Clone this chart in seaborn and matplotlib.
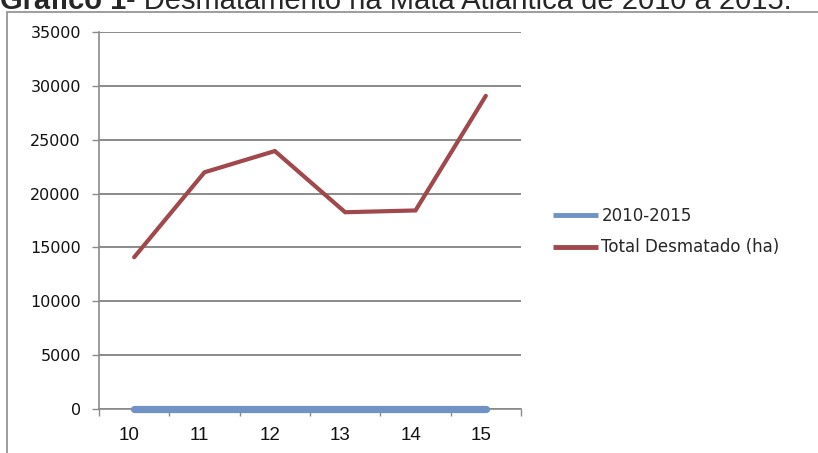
import numpy as np
import pandas as pd
import seaborn as sns
import matplotlib
matplotlib.use("Agg")
import matplotlib.pyplot as plt
from matplotlib.patches import Rectangle
from matplotlib.transforms import ScaledTranslation
from matplotlib.ticker import FixedLocator, FuncFormatter

# Deforested area per year (hectares), Atlantic Forest
years = ["10", "11", "12", "13", "14", "15"]
total_desmatado = [14090, 21977, 23948, 18267, 18433, 29075]
periodo = [0, 0, 0, 0, 0, 0]
y_ticks = [0, 5000, 10000, 15000, 20000, 25000, 30000, 35000]

RED = "#A0484B"
BLUE = "#7092C4"
GRID = "#8A8A8A"

sns.set_theme(style="white")
plt.rcParams["font.family"] = ["DejaVu Sans"]

df = pd.DataFrame({
    "pos": np.arange(len(years)),
    "ano": years,
    "2010-2015": periodo,
    "Total Desmatado (ha)": total_desmatado,
})

fig = plt.figure(figsize=(8.18, 4.53), dpi=100)
ax = fig.add_axes([99 / 818, 1 - 409 / 453, 422 / 818, 377 / 453])

sns.lineplot(data=df, x="pos", y="2010-2015", ax=ax, color=BLUE, lw=5.2,
             solid_capstyle="round", label="2010-2015", zorder=4, clip_on=False)
sns.lineplot(data=df, x="pos", y="Total Desmatado (ha)", ax=ax, color=RED,
             lw=3, solid_joinstyle="miter", label="Total Desmatado (ha)", zorder=3)

ax.set_xlim(-0.5, len(years) - 0.5)
ax.set_ylim(0, 35000)
ax.set_xlabel("")
ax.set_ylabel("")

# horizontal gridlines
ax.yaxis.set_major_locator(FixedLocator(y_ticks))
ax.yaxis.set_major_formatter(FuncFormatter(lambda v, p: f"{int(v)}"))
ax.grid(axis="y", color=GRID, lw=1.4)
ax.grid(axis="x", visible=False)
ax.set_axisbelow(True)

for s in ["top", "right"]:
    ax.spines[s].set_visible(False)
for s in ["left", "bottom"]:
    ax.spines[s].set_color(GRID)
    ax.spines[s].set_linewidth(1.2)
ax.spines["bottom"].set_zorder(2)

ax.tick_params(axis="y", which="major", direction="out", length=5, width=1,
               color=GRID, pad=8, labelsize=11.5, labelcolor="#111111", left=True)

# category labels centred in each slot, tick marks on slot boundaries
ax.set_xticks(np.arange(len(years)))
ax.set_xticklabels(years, fontfamily="Liberation Sans", fontsize=13.5, color="#111111")
ax.set_xticks(np.arange(-0.5, len(years)), minor=True)
ax.tick_params(axis="x", which="major", length=0, pad=13)
ax.tick_params(axis="x", which="minor", direction="out", length=5, width=1,
               color=GRID, bottom=True)
shift = ScaledTranslation(-5 / 100, 0, fig.dpi_scale_trans)
for lab in ax.get_xticklabels():
    lab.set_transform(lab.get_transform() + shift)

ax.get_legend().remove()
handles, labels = ax.get_legend_handles_labels()
leg = fig.legend(handles, labels, loc="upper left",
                 bbox_to_anchor=(553 / 818, 1 - 207 / 453), frameon=False,
                 fontsize=12, handlelength=2.7, handletextpad=0.2,
                 labelspacing=0.8, borderpad=0, borderaxespad=0)
for ln in leg.get_lines():
    ln.set_linewidth(3.5)
    ln.set_solid_capstyle("butt")

# frame around the chart
fig.add_artist(Rectangle((7 / 818, -0.2), 1.2, 1.2 - 12 / 453,
                         transform=fig.transFigure, fill=False,
                         edgecolor="#8C8C8C", lw=1.2))

# caption above the chart
fig.canvas.draw()
r = fig.canvas.get_renderer()
base_y = 1 - 9 / 453
t1 = fig.text(0.0, base_y, "Gráfico 1", fontfamily="Liberation Sans",
              fontweight="bold", fontsize=21, va="baseline", ha="left")
bb = t1.get_window_extent(renderer=r)
fig.text(bb.x1 / fig.bbox.width, base_y,
         "- Desmatamento na Mata Atlântica de 2010 a 2015.",
         fontfamily="Liberation Sans", fontsize=21, va="baseline", ha="left")

fig.savefig("out.png", dpi=100)
